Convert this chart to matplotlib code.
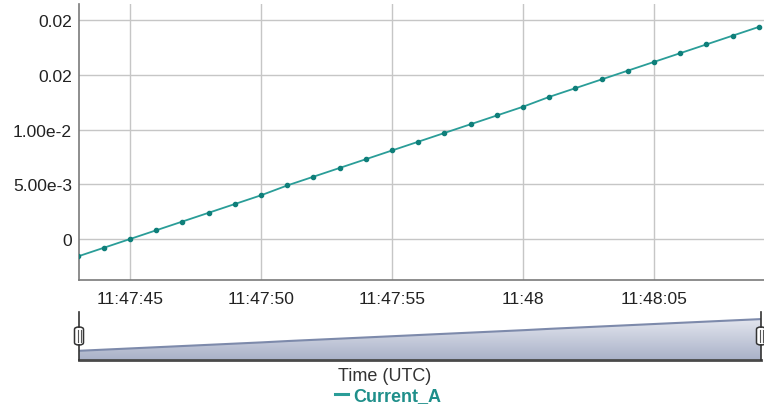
#!/usr/bin/env python3
"""
Line chart with navigator strip: Current_A over time (UTC)
"""

import matplotlib
matplotlib.use("Agg")
import matplotlib.pyplot as plt
import matplotlib.dates as mdates
import numpy as np
from matplotlib.colors import LinearSegmentedColormap
from matplotlib.patches import FancyBboxPatch
from matplotlib.lines import Line2D

plt.rcParams["font.family"] = ["Liberation Sans", "DejaVu Sans"]

# --- Data ---
times = [
    "11:47:43", "11:47:44", "11:47:45", "11:47:46", "11:47:47", "11:47:48",
    "11:47:49", "11:47:50", "11:47:51", "11:47:52", "11:47:53", "11:47:54",
    "11:47:55", "11:47:56", "11:47:57", "11:47:58", "11:47:59", "11:48:00",
    "11:48:01", "11:48:02", "11:48:03", "11:48:04", "11:48:05", "11:48:06",
    "11:48:07", "11:48:08", "11:48:09",
]
current_a = [
    -0.0016, -0.0008, 0.0000, 0.0008, 0.0016, 0.0024,
    0.0032, 0.0040, 0.0049, 0.0057, 0.0065, 0.0073,
    0.0081, 0.0089, 0.0097, 0.0105, 0.0113, 0.0121,
    0.0130, 0.0138, 0.0146, 0.0154, 0.0162, 0.0170,
    0.0178, 0.0186, 0.0194,
]

x_ticks = ["11:47:45", "11:47:50", "11:47:55", "11:48:00", "11:48:05"]
x_tick_labels = ["11:47:45", "11:47:50", "11:47:55", "11:48", "11:48:05"]
y_ticks = [0.0, 0.005, 0.010, 0.015, 0.020]
y_tick_labels = ["0", "5.00e-3", "1.00e-2", "0.02", "0.02"]

day = "2018-01-01T"
t = np.array([np.datetime64(day + s) for s in times])
t_ticks = np.array([np.datetime64(day + s) for s in x_ticks])

LINE = "#2a9d98"
MARK = "#0f7f7a"
GRID = "#c6c6c6"
SPINE = "#7a7a7a"

W, H = 764, 406
fig = plt.figure(figsize=(W / 100, H / 100), dpi=100)

# --- Main plot ---
ax = fig.add_axes([79 / W, 1 - 281 / H, 685 / W, 276 / H])
ax.plot(t, current_a, color=LINE, linewidth=1.3, zorder=3)
ax.plot(t, current_a, linestyle="none", marker="o", markersize=3,
        color=MARK, zorder=4)

x0 = np.datetime64(day + "11:47:43.050")
x1 = np.datetime64(day + "11:48:09.200")
ax.set_xlim(x0, x1)
ax.set_ylim(-0.00375, 0.0215)

ax.set_xticks(t_ticks)
ax.set_xticklabels(x_tick_labels)
ax.set_yticks(y_ticks)
ax.set_yticklabels(y_tick_labels)
ax.tick_params(axis="both", length=0, labelsize=12.6, colors="#222222")
ax.tick_params(axis="x", pad=8)
ax.tick_params(axis="y", pad=5)

ax.grid(True, color=GRID, linewidth=1)
ax.set_axisbelow(True)
for side in ["top", "right"]:
    ax.spines[side].set_visible(False)
for side in ["left", "bottom"]:
    ax.spines[side].set_color(SPINE)
    ax.spines[side].set_linewidth(1.2)

# --- Navigator strip ---
nav = fig.add_axes([79 / W, 1 - 361 / H, 682 / W, 48 / H])
nav.axis("off")

poly = nav.fill_between(t, current_a, -0.0077, facecolor="none", edgecolor="none")
cmap = LinearSegmentedColormap.from_list("nav", ["#eceef4", "#a9b1c8"])
grad = np.linspace(0, 1, 256).reshape(-1, 1)
xn0, xn1 = mdates.date2num(t[0]), mdates.date2num(t[-1])
im = nav.imshow(grad, cmap=cmap, aspect="auto",
                extent=[xn0, xn1, -0.0077, 0.0241], origin="upper", zorder=1)
im.set_clip_path(poly.get_paths()[0], transform=nav.transData)
nav.set_xlim(t[0], t[-1])
nav.set_ylim(-0.0077, 0.0241)
nav.plot(t, current_a, color="#7d8aab", linewidth=1.5, zorder=2)
nav.axhline(-0.0077, color="#4a4a4a", linewidth=2, zorder=3, clip_on=False)

# Handles at both ends
for hx in [79, 761]:
    fig.add_artist(Line2D([hx / W, hx / W], [1 - 313 / H, 1 - 361 / H],
                          transform=fig.transFigure, color="#333333", linewidth=1.2))
    fig.add_artist(FancyBboxPatch(((hx - 4.5) / W, 1 - 346 / H), 9 / W, 18 / H,
                                  boxstyle="round,pad=0,rounding_size=0.006",
                                  transform=fig.transFigure, facecolor="white",
                                  edgecolor="#333333", linewidth=1.1, zorder=5))
    for dx in [-1.5, 1.5]:
        fig.add_artist(Line2D([(hx + dx) / W, (hx + dx) / W], [1 - 331 / H, 1 - 343 / H],
                              transform=fig.transFigure, color="#555555",
                              linewidth=0.8, zorder=6))

# --- Axis title and legend ---
fig.text(385 / W, 1 - 377 / H, "Time (UTC)", ha="center", va="center",
         fontsize=13, color="#333333")
handle = Line2D([], [], color=LINE, linewidth=2.2)
leg = fig.legend([handle], ["Current_A"], loc="center",
                 bbox_to_anchor=(388 / W, 1 - 397 / H), frameon=False,
                 handlelength=0.7, handletextpad=0.3, borderpad=0,
                 prop={"size": 13, "weight": "bold"})
for txt in leg.get_texts():
    txt.set_color("#1f8f8a")

fig.savefig("out.png", dpi=100, facecolor="white")
